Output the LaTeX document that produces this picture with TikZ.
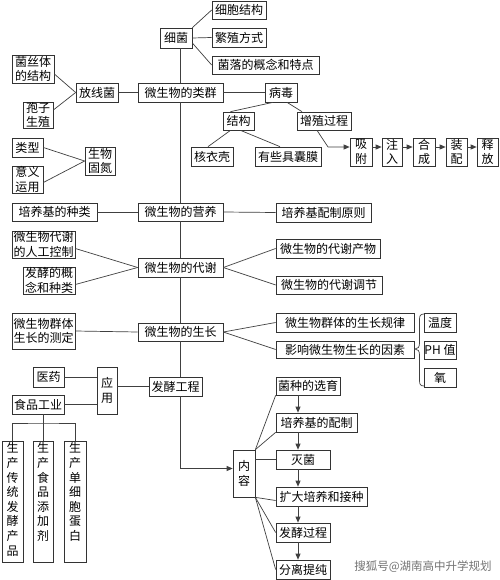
\documentclass[tikz,border=0pt]{standalone}
\usepackage{fontspec}
\newfontfamily\cjk{Noto Sans CJK SC}
\usetikzlibrary{arrows.meta}
\tikzset{
  box/.style={draw=black!80, line width=0.7pt, fill=white, inner sep=0pt, align=center,
    font=\cjk\fontsize{12}{14.5}\selectfont},
  ln/.style={draw=black!75, line width=0.7pt},
  arr/.style={ln, -{Triangle[length=6pt,width=5pt]}},
  vtext/.style={inner sep=0pt, align=center, anchor=north, font=\cjk\fontsize{12}{14.6}\selectfont},
  wmark/.style={inner sep=0pt, font=\cjk\fontsize{11.5}{13}\selectfont, text=black!55}
}
\newcommand\bx[6]{\node[box,minimum width={(#4-#2)*1pt},minimum height={(#5-#3)*1pt}] (#1) at ({(#2+#4)/2},{(#3+#5)/2}) {#6};}
\begin{document}
\begin{tikzpicture}[x=1pt,y=-1pt]
\useasboundingbox[fill=white] (0,0) rectangle (499,580);
% boxes
\bx{xb}{160}{28}{192}{48}{细菌}
\bx{xbjg}{212}{1}{266}{19}{细胞结构}
\bx{fzfs}{212}{28}{266}{47}{繁殖方式}
\bx{jl}{212}{56}{319}{74}{菌落的概念和特点}
\bx{lq}{138}{83}{223}{102}{微生物的类群}
\bx{fxj}{76}{83}{118}{102}{放线菌}
\bx{jst}{12}{55}{54}{83}{菌丝体\\的结构}
\bx{bz}{23}{102}{53}{128}{孢子\\生殖}
\bx{lx}{12}{138}{43}{157}{类型}
\bx{yy}{12}{166}{43}{193}{意义\\运用}
\bx{gd}{85}{147}{115}{175}{生物\\固氮}
\bx{bd}{265}{83}{297}{102}{病毒}
\bx{jg}{223}{112}{254}{130}{结构}
\bx{zz}{297}{112}{351}{130}{增殖过程}
\bx{hyk}{191}{147}{233}{166}{核衣壳}
\bx{nm}{255}{147}{321}{166}{有些具囊膜}
\bx{xf}{350}{138}{372}{166}{吸\\附}
\bx{zr}{382}{138}{402}{166}{注\\入}
\bx{hc}{413}{138}{435}{166}{合\\成}
\bx{zp}{446}{138}{467}{166}{装\\配}
\bx{sf}{477}{138}{498}{166}{释\\放}
\bx{yyang}{138}{203}{223}{221}{微生物的营养}
\bx{pyzl}{12}{203}{97}{221}{培养基的种类}
\bx{pyyz}{276}{203}{371}{222}{培养基配制原则}
\bx{dx}{138}{258}{223}{277}{微生物的代谢}
\bx{rgkz}{12}{231}{75}{258}{微生物代谢\\的人工控制}
\bx{fjgn}{23}{267}{75}{294}{发酵的概\\念和种类}
\bx{dxcw}{276}{239}{380}{258}{微生物的代谢产物}
\bx{dxtj}{276}{276}{382}{294}{微生物的代谢调节}
\bx{sz}{138}{323}{223}{341}{微生物的生长}
\bx{cd}{12}{313}{75}{349}{微生物群体\\生长的测定}
\bx{szgl}{276}{313}{414}{332}{微生物群体的生长规律}
\bx{ys}{276}{341}{414}{358}{影响微生物生长的因素}
\bx{wd}{424}{313}{456}{332}{温度}
\bx{ph}{424}{341}{456}{359}{PH 值}
\bx{yang}{424}{368}{456}{387}{氧}
\bx{yiyao}{33}{367}{64}{387}{医药}
\bx{spgy}{12}{395}{64}{414}{食品工业}
\bx{yingyong}{97}{367}{117}{414}{应\\用}
\bx{fjgc}{149}{377}{202}{396}{发酵工程}
\bx{nr}{233}{450}{255}{497}{内\\容}
\bx{p1}{2}{441}{23}{562}{}
\bx{p2}{33}{441}{53}{562}{}
\bx{p3}{64}{441}{86}{562}{}
\node[vtext] (t1) at ([yshift=-2pt]p1.north) {生\\产\\传\\统\\发\\酵\\产\\品};
\node[vtext] (t2) at ([yshift=-2pt]p2.north) {生\\产\\食\\品\\添\\加\\剂};
\node[vtext] (t3) at ([yshift=-2pt]p3.north) {生\\产\\单\\细\\胞\\蛋\\白};
\bx{xy}{276}{377}{340}{395}{菌种的选育}
\bx{pz}{276}{413}{357}{432}{培养基的配制}
\bx{mj}{276}{450}{330}{469}{灭菌}
\bx{kd}{276}{487}{367}{506}{扩大培养和接种}
\bx{fjgch}{276}{523}{330}{542}{发酵过程}
\bx{fltc}{276}{560}{330}{579}{分离提纯}
\node[wmark] (wm) at (423,567) {搜狐号@湖南高中升学规划};
% spine
\draw[ln] (lq |- xb.south) -- (lq.north);
\draw[ln] (lq.south) -- (yyang.north);
\draw[ln] (yyang.south) -- (dx.north);
\draw[ln] (dx.south) -- (sz.north);
\draw[ln] (sz.south) -- (lq |- fjgc.north);
\draw[arr] (lq |- fjgc.south) |- ([yshift=5pt]nr.west);
% bacteria
\draw[ln] (xb.north east) -- (xbjg.west);
\draw[ln] (xb.east) -- (fzfs.west);
\draw[ln] ([yshift=-5pt]xb.east) -- (jl.west);
% actinomycete
\draw[ln] (lq.west) -- (fxj.east);
\draw[ln] (fxj.west) -- ([yshift=-5pt]jst.east);
\draw[ln] (fxj.west) -- ([yshift=5pt]bz.east);
\draw[ln] (lx.east) -- (gd.west);
\draw[ln] ([yshift=-3pt]yy.east) -- (gd.west);
% virus
\draw[ln] (lq.east) -- (bd.west);
\draw[ln] ([xshift=-8pt]bd.south) -- ([xshift=-8pt]jg.north);
\draw[ln] ([xshift=6pt]bd.south) -- ([xshift=-22pt]zz.north);
\draw[ln] ([xshift=-8pt]jg.south) -- ([xshift=-4pt]hyk.north);
\draw[ln] ([xshift=2pt]jg.south) -- ([xshift=-8pt]nm.north);
\coordinate (k1) at (328,147);
\draw[arr] ([xshift=-7pt]zz.south) -- (k1) -- ([yshift=5pt]xf.west);
\draw[arr] ([yshift=5pt]xf.east) -- ([yshift=5pt]zr.west);
\draw[arr] ([yshift=5pt]zr.east) -- ([yshift=5pt]hc.west);
\draw[arr] ([yshift=5pt]hc.east) -- ([yshift=5pt]zp.west);
\draw[arr] ([yshift=5pt]zp.east) -- ([yshift=5pt]sf.west);
% nutrition
\draw[ln] (pyzl.east) -- (yyang.west);
\draw[ln] (yyang.east) -- (pyyz.west);
% metabolism
\draw[ln] (dx.west) -- ([yshift=-4pt]rgkz.east);
\draw[ln] (dx.west) -- ([yshift=-4pt]fjgn.east);
\draw[ln] (dx.east) -- (dxcw.west);
\draw[ln] (dx.east) -- (dxtj.west);
% growth
\draw[ln] (sz.west) -- (cd.east);
\draw[ln] (sz.east) -- (szgl.west);
\draw[ln] (sz.east) -- (ys.west);
\coordinate (bt) at (415,349);
\draw[ln] (ys.east) -- (bt);
\draw[ln] (424,314) .. controls (420,314) and (419.5,316) .. (419.5,320) -- (419.5,343)
  .. controls (419.5,347) and (418,349) .. (bt)
  .. controls (418,349) and (419.5,351) .. (419.5,355) -- (419.5,380)
  .. controls (419.5,384) and (420,386) .. (424,386);
% application
\draw[ln] (yiyao.east) -- (yiyao.east -| yingyong.west);
\draw[ln] (spgy.east) -- (spgy.east -| yingyong.west);
\draw[ln] (fjgc.west -| yingyong.east) -- (fjgc.west);
\coordinate (tj) at (43,423);
\draw[ln] (p2 |- spgy.south) -- (p2.north);
\draw[ln] (p1.north) |- (tj) -| (p3.north);
% contents
\draw[ln] (nr.north east) -- (xy.south west);
\draw[ln] (nr.north east) -- (pz.south west);
\draw[ln] (mj.west -| nr.east) -- (mj.west);
\draw[ln] (nr.south east) -- ([yshift=-4pt]kd.west);
\draw[ln] (nr.south east) -- (fjgch.west);
\draw[ln] (nr.south east) -- (fltc.west);
\coordinate (ar) at (298,0);
\draw[arr] (xy.south -| ar) -- (pz.north -| ar);
\draw[arr] (pz.south -| ar) -- (mj.north -| ar);
\draw[arr] (mj.south -| ar) -- (kd.north -| ar);
\draw[arr] (kd.south -| ar) -- (fjgch.north -| ar);
\draw[arr] (fjgch.south -| ar) -- (fltc.north -| ar);
\end{tikzpicture}
\end{document}
